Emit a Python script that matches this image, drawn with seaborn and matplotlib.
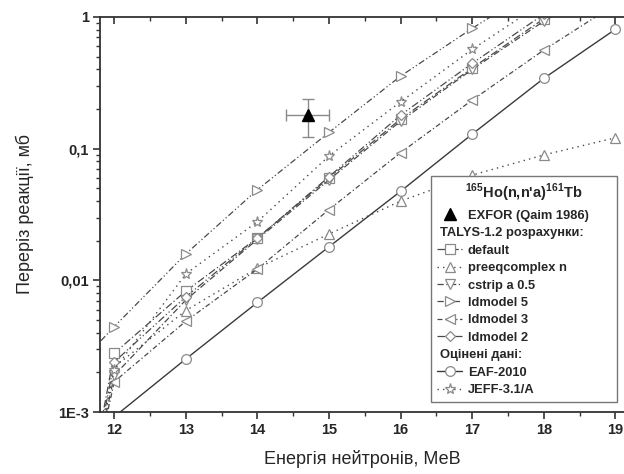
import matplotlib
matplotlib.use("Agg")
import matplotlib.pyplot as plt
import matplotlib.ticker as mticker
import matplotlib.transforms as mtransforms
from matplotlib.lines import Line2D
import seaborn as sns

# energies, MeV (11.5 lies left of the visible range, it only shapes the start of the lines)
energy = [11.5, 12, 13, 14, 15, 16, 17, 18, 19]

# TALYS-1.2 calculations, mb
talys_default = [0.0001, 0.0028, 0.0083, 0.021, 0.060, 0.168, 0.41, 0.97, 2.0]
talys_preeq = [0.0001, 0.0022, 0.0059, 0.0124, 0.0225, 0.0400, 0.063, 0.0896, 0.121]
talys_cstrip = [0.0001, 0.0019, 0.0071, 0.0205, 0.058, 0.162, 0.40, 0.93, 1.9]
talys_ldm5 = [0.0023, 0.00445, 0.0159, 0.0488, 0.133, 0.356, 0.82, 1.8, 3.5]
talys_ldm3 = [0.0001, 0.0017, 0.0049, 0.0122, 0.0345, 0.0933, 0.234, 0.561, 1.25]
talys_ldm2 = [0.0001, 0.0024, 0.0075, 0.0209, 0.0613, 0.180, 0.445, 1.05, 2.2]

# evaluated data, mb
eaf_2010 = [0.0003, 0.00092, 0.00253, 0.0068, 0.018, 0.0475, 0.129, 0.342, 0.807]
jeff_31a = [0.0001, 0.0021, 0.0112, 0.0279, 0.088, 0.227, 0.568, 1.3, 2.6]

# EXFOR point
exfor_e = [14.7]
exfor_xs = [0.18]
exfor_de = [0.3]
exfor_dxs = [0.058]

x_ticks = [12, 13, 14, 15, 16, 17, 18, 19]
y_ticks = [0.001, 0.01, 0.1, 1]
y_tick_labels = ["1E-3", "0,01", "0,1", "1"]

LINE = "#4a4a4a"
MARK = "#8a8a8a"

series = [
    ("default", talys_default, "s", (0, (6, 2, 1, 2)), 0.9),
    ("preeqcomplex n", talys_preeq, "^", (0, (1, 3)), 1.0),
    ("cstrip a 0.5", talys_cstrip, "v", (0, (5, 2, 1, 2)), 0.9),
    ("ldmodel 5", talys_ldm5, ">", (0, (5, 2, 1, 2, 1, 2)), 0.9),
    ("ldmodel 3", talys_ldm3, "<", (0, (4, 2, 1, 2)), 0.9),
    ("ldmodel 2", talys_ldm2, "D", (0, (6, 2, 1, 2, 1, 2)), 0.9),
]


def main():
    sns.set_style("ticks")
    plt.rcParams["font.family"] = ["Liberation Sans", "DejaVu Sans"]
    plt.rcParams["mathtext.fontset"] = "custom"
    plt.rcParams["mathtext.rm"] = "Liberation Sans:bold"
    plt.rcParams["mathtext.bf"] = "Liberation Sans:bold"

    fig = plt.figure(figsize=(6.24, 4.74), dpi=100)
    ax = fig.add_axes([100 / 624, 62 / 474, 524 / 624, 395 / 474])

    mk = dict(markersize=7, markerfacecolor="white", markeredgecolor=MARK, markeredgewidth=0.9)

    handles = []
    for name, vals, marker, ls, lw in series:
        ms = 5.5 if marker == "D" else 7
        sns.lineplot(x=energy, y=vals, ax=ax, color=LINE, linestyle=ls, linewidth=lw,
                     marker=marker, **{**mk, "markersize": ms})
        handles.append(Line2D([], [], color=LINE, linestyle=ls, linewidth=lw, marker=marker,
                              label=name, **{**mk, "markersize": ms}))

    sns.lineplot(x=energy, y=eaf_2010, ax=ax, color="#3a3a3a", linestyle="-", linewidth=1.0,
                 marker="o", **mk)
    sns.lineplot(x=energy, y=jeff_31a, ax=ax, color=LINE, linestyle=(0, (1, 3)), linewidth=1.0,
                 marker="*", **{**mk, "markersize": 8})

    ax.errorbar(exfor_e, exfor_xs, xerr=exfor_de, yerr=exfor_dxs, fmt="^", color="black",
                ecolor=MARK, elinewidth=1.0, capsize=4, capthick=1.0, markersize=8, zorder=5)

    ax.set_yscale("log")
    ax.set_xlim(11.8, 19.12)
    ax.set_ylim(0.001, 1)

    ax.set_xticks(x_ticks)
    ax.set_xticklabels([str(t) for t in x_ticks])
    ax.xaxis.set_minor_locator(mticker.MultipleLocator(0.5))
    ax.set_yticks(y_ticks)
    ax.set_yticklabels(y_tick_labels)
    ax.yaxis.set_minor_locator(mticker.LogLocator(base=10, subs=range(2, 10)))
    ax.yaxis.set_minor_formatter(mticker.NullFormatter())

    for lab in ax.get_xticklabels() + ax.get_yticklabels():
        lab.set_fontweight("bold")
        lab.set_fontsize(10.5)

    ax.tick_params(axis="both", which="major", direction="out", length=5, width=1.2,
                   color="#333333", pad=3)
    ax.tick_params(axis="both", which="minor", direction="out", length=3, width=1.0,
                   color="#333333")
    ax.tick_params(axis="x", which="both", top=True)
    # top ticks point into the plot
    for t in ax.xaxis.get_major_ticks():
        t.tick2line.set_marker(3)
        t.tick2line.set_markersize(5)
    for t in ax.xaxis.get_minor_ticks():
        t.tick2line.set_marker(3)
        t.tick2line.set_markersize(3)

    for side in ["left", "bottom", "top"]:
        ax.spines[side].set_color("#333333")
        ax.spines[side].set_linewidth(1.3)
    ax.spines["right"].set_visible(False)

    ax.set_xlabel("Енергія нейтронів, МеВ", fontsize=13, labelpad=9)
    ax.set_ylabel("Переріз реакції, мб", fontsize=13, labelpad=17)

    blank = Line2D([], [], linestyle="none", marker="none")
    exfor_h = Line2D([], [], linestyle="none", marker="^", color="black", markersize=8)
    eaf_h = Line2D([], [], color="#3a3a3a", linestyle="-", linewidth=1.0, marker="o", **mk)
    jeff_h = Line2D([], [], color=LINE, linestyle=(0, (1, 3)), linewidth=1.0, marker="*",
                    **{**mk, "markersize": 8})

    leg_handles = [exfor_h, blank] + handles + [blank, eaf_h, jeff_h]
    leg_labels = ["EXFOR (Qaim 1986)", "TALYS-1.2 розрахунки:"] + [h.get_label() for h in handles] \
        + ["Оцінені дані:", "EAF-2010", "JEFF-3.1/A"]

    leg = ax.legend(leg_handles, leg_labels, loc="lower right",
                    bbox_to_anchor=(0.987, 0.025), bbox_transform=ax.transAxes,
                    title="$^{165}$Ho(n,n'a)$^{161}$Tb",
                    title_fontproperties={"weight": "bold", "size": 10.5},
                    prop={"weight": "bold", "size": 9.3},
                    frameon=True, fancybox=False, edgecolor="#777777", framealpha=1,
                    handlelength=2.0, handletextpad=0.4, labelspacing=0.42,
                    borderpad=0.45, borderaxespad=0)
    leg.get_frame().set_linewidth(1.0)

    texts = leg.get_texts()
    shift = mtransforms.ScaledTranslation(-0.28, 0, fig.dpi_scale_trans)
    for i in (1, 8):
        texts[i].set_transform(texts[i].get_transform() + shift)

    fig.savefig("out.png", dpi=100)
    plt.close(fig)


if __name__ == "__main__":
    main()
